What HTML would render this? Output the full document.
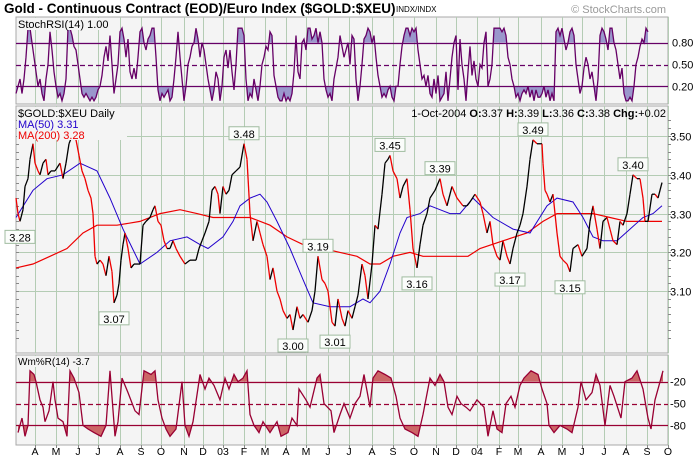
<!DOCTYPE html>
<html><head><meta charset="utf-8"><style>
html,body{margin:0;padding:0;background:#fff;}
svg{display:block;font-family:"Liberation Sans",sans-serif;}
</style></head><body>
<svg id="chart" width="700" height="462" viewBox="0 0 700 462" xmlns="http://www.w3.org/2000/svg">
<text x="4" y="13" font-size="13.5" font-weight="bold" fill="#000">Gold - Continuous Contract (EOD)/Euro Index ($GOLD:$XEU)</text>
<text x="396" y="12" font-size="8" fill="#000">INDX/INDX</text>
<text x="666" y="13" font-size="11" fill="#999" text-anchor="end">© StockCharts.com</text>
<g id="panels"></g>
</svg>
<script>
// ---- data ----
const monthLabels=["A","M","J","J","A","S","O","N","D","03","F","M","A","M","J","J","A","S","O","N","D","04","F","M","A","M","J","J","A","S","O"];
const monthDays=[19,40,62,82,104,125,145,168,187,207,228,249,270,290,312,333,356,377,398,420,440,461,483,502,525,546,566,588,610,631,652];
const priceDays=[0,2,4,7,9,12,14,17,19,22,24,27,30,32,35,39,44,47,50,53,56,60,63,66,69,72,75,77,79,81,84,87,90,93,96,98,101,103,105,107,109,112,115,118,121,124,127,130,134,137,139,142,145,148,151,154,157,160,164,169,174,177,180,183,186,189,193,196,199,202,204,207,210,213,216,220,224,228,231,234,237,241,244,247,251,254,257,261,264,267,271,274,277,281,284,287,292,296,299,302,306,309,312,316,319,322,326,329,332,336,339,342,346,349,352,356,359,362,366,369,372,374,377,381,384,387,391,394,397,401,404,407,411,414,419,424,427,431,436,441,447,451,454,459,464,467,471,474,477,481,484,487,491,494,497,501,504,507,511,514,517,521,526,527,529,531,534,537,541,544,547,551,554,557,562,566,571,574,577,581,584,587,591,594,597,601,604,607,611,614,617,621,624,627,629,632,636,639,642,646];
const closes=[3.34,3.30,3.28,3.31,3.37,3.39,3.44,3.48,3.43,3.41,3.40,3.43,3.44,3.40,3.41,3.41,3.43,3.39,3.43,3.48,3.50,3.49,3.45,3.41,3.39,3.36,3.34,3.30,3.19,3.17,3.18,3.17,3.14,3.19,3.15,3.07,3.09,3.12,3.18,3.22,3.25,3.21,3.16,3.17,3.17,3.17,3.27,3.28,3.29,3.31,3.32,3.28,3.27,3.23,3.21,3.21,3.23,3.21,3.19,3.17,3.18,3.18,3.18,3.21,3.23,3.25,3.28,3.36,3.37,3.35,3.30,3.37,3.35,3.36,3.40,3.41,3.42,3.48,3.44,3.30,3.23,3.28,3.25,3.22,3.19,3.13,3.16,3.10,3.08,3.05,3.03,3.04,3.00,3.06,3.03,3.04,3.02,3.05,3.10,3.19,3.13,3.12,3.10,3.02,3.01,3.08,3.03,3.01,3.05,3.03,3.06,3.09,3.17,3.14,3.08,3.17,3.27,3.26,3.35,3.43,3.44,3.45,3.41,3.39,3.34,3.37,3.39,3.31,3.21,3.16,3.22,3.27,3.30,3.34,3.36,3.39,3.35,3.32,3.37,3.34,3.32,3.32,3.33,3.35,3.33,3.30,3.25,3.28,3.22,3.19,3.18,3.23,3.19,3.17,3.21,3.25,3.27,3.30,3.37,3.44,3.49,3.48,3.48,3.43,3.36,3.35,3.33,3.35,3.25,3.19,3.18,3.17,3.15,3.21,3.22,3.19,3.21,3.28,3.32,3.26,3.21,3.28,3.29,3.26,3.23,3.22,3.28,3.27,3.30,3.35,3.40,3.39,3.39,3.34,3.28,3.28,3.35,3.35,3.34,3.38];
const ma50Days=[0,17,31,47,64,81,94,107,124,141,154,171,184,192,207,217,224,234,244,251,261,274,287,297,314,334,347,354,364,374,384,391,404,414,424,434,444,457,477,497,514,531,541,557,567,577,587,601,614,627,637,646];
const ma50=[3.29,3.36,3.39,3.40,3.43,3.41,3.34,3.26,3.17,3.20,3.23,3.24,3.22,3.21,3.24,3.28,3.32,3.34,3.35,3.33,3.28,3.21,3.13,3.07,3.06,3.06,3.08,3.07,3.10,3.17,3.25,3.29,3.30,3.32,3.31,3.30,3.30,3.34,3.29,3.26,3.25,3.32,3.34,3.33,3.29,3.24,3.23,3.23,3.26,3.29,3.30,3.32];
const ma200Days=[0,17,34,51,67,81,101,124,144,164,181,197,224,234,254,271,287,307,324,341,354,364,377,394,407,431,452,464,487,511,527,541,561,577,594,611,646];
const ma200=[3.16,3.17,3.19,3.21,3.25,3.27,3.27,3.28,3.30,3.31,3.30,3.29,3.29,3.29,3.27,3.24,3.22,3.21,3.20,3.19,3.17,3.17,3.19,3.20,3.19,3.19,3.19,3.21,3.23,3.25,3.28,3.30,3.30,3.30,3.29,3.28,3.28];
// StochRSI sampled every 2 trading days
const stochVals=[0.1,0.2,0.3,0.1,0.3,0.6,1.0,1.0,0.8,0.6,0.4,0.2,0.3,0.1,0.0,0.3,0.5,0.95,0.7,0.4,0.2,0.05,0.1,0.0,0.1,0.3,1.0,1.0,0.9,0.75,0.7,0.5,0.3,0.1,0.05,0.1,0.05,0.0,0.05,0.0,0.05,0.15,0.2,0.35,0.6,0.75,0.55,0.9,0.5,0.1,0.3,0.5,0.95,1.0,0.85,0.6,0.85,0.4,0.3,0.45,0.3,0.6,0.95,1.0,0.8,0.7,0.85,0.9,1.0,1.0,0.6,0.15,0.0,0.1,0.05,0.1,0.15,0.0,0.05,0.3,0.6,0.95,0.6,0.3,0.0,0.2,0.5,0.6,0.75,0.8,1.0,0.85,0.6,0.8,0.7,0.5,0.3,0.15,0.0,0.15,0.4,0.3,0.0,0.2,0.6,0.7,0.45,0.7,0.4,0.15,0.5,1.0,1.0,1.0,0.9,0.3,0.0,0.1,0.05,0.3,0.15,0.0,0.2,0.5,0.6,0.75,0.7,0.95,0.9,0.35,0.2,0.05,0.0,0.0,0.1,0.0,0.05,0.0,0.1,0.4,0.9,0.4,0.3,0.8,0.85,0.7,1.0,1.0,0.85,0.9,1.0,0.8,0.95,0.8,0.3,0.15,0.05,0.1,0.0,0.3,0.45,0.6,0.9,0.75,0.6,0.7,0.8,0.5,0.9,0.85,0.3,0.0,0.2,0.5,0.85,0.9,1.0,0.95,0.8,0.9,0.6,0.35,0.2,0.05,0.1,0.05,0.15,0.2,0.05,0.0,0.2,0.2,0.5,0.75,0.9,1.0,1.0,0.9,1.0,0.95,1.0,0.7,0.5,0.3,0.35,0.2,0.35,0.1,0.05,0.3,0.1,0.35,0.0,0.05,0.1,0.4,0.0,0.3,0.6,0.8,0.9,0.15,0.85,0.5,0.3,0.0,0.4,0.75,0.35,0.55,0.3,0.2,0.5,0.45,0.8,0.95,0.2,0.3,0.5,1.0,1.0,1.0,1.0,0.95,1.0,0.9,0.6,0.5,0.3,0.2,0.05,0.1,0.0,0.1,0.15,0.1,0.2,0.05,0.15,0.0,0.15,0.05,0.05,0.1,0.2,0.05,0.15,0.0,0.1,0.0,0.95,1.0,0.9,1.0,0.85,0.7,0.8,0.95,1.0,0.9,0.5,0.3,0.1,0.2,0.45,0.6,0.5,0.3,0.4,0.2,0.0,0.3,0.9,1.0,0.95,0.85,0.7,1.0,1.0,0.8,0.7,0.5,0.3,0.45,0.1,0.0,0.0,0.05,0.0,0.2,0.5,0.6,0.75,0.85,0.8,1.0,0.95];
const wmDays=[2,6,9,12,14,18,20,24,27,29,33,37,39,42,47,51,54,58,63,67,72,78,85,90,94,99,102,106,112,119,123,128,135,139,142,146,150,154,160,166,169,173,177,184,189,193,198,204,209,213,218,222,227,231,234,238,243,247,254,261,265,272,276,281,283,290,294,301,304,308,315,318,324,328,334,339,344,348,354,357,362,369,375,380,384,389,396,402,407,414,419,424,428,432,436,441,445,450,454,461,468,472,477,481,486,490,495,499,504,508,515,522,526,531,533,538,544,551,556,562,565,570,576,580,584,589,594,598,605,609,616,621,627,632,635,639,643,645,647];
const wmVals=[-90,-70,-95,-80,-5,-10,-20,-45,-55,-75,-60,-20,-45,-70,-75,-95,-5,-15,-35,-80,-85,-90,-95,-80,-5,-95,-75,-15,-35,-60,-65,-5,-10,-5,-45,-70,-85,-95,-85,-20,-80,-95,-75,-10,-30,-15,-25,-45,-15,-30,-10,-20,-15,-5,-65,-80,-90,-75,-90,-75,-95,-90,-70,-80,-30,-45,-55,-15,-10,-50,-60,-90,-65,-50,-70,-50,-40,-10,-55,-15,-5,-10,-15,-40,-70,-85,-90,-95,-65,-15,-25,-10,-20,-55,-65,-40,-50,-55,-60,-45,-55,-95,-60,-85,-90,-50,-40,-55,-25,-15,-5,-10,-30,-50,-80,-90,-80,-85,-90,-55,-20,-45,-35,-10,-25,-80,-25,-40,-70,-20,-15,-5,-30,-70,-85,-45,-25,-15,-5];
const annotLabels=["3.28","3.07","3.48","3.00","3.01","3.19","3.45","3.16","3.39","3.49","3.17","3.15","3.40"];
const annotDays=[4,98,228,277,319,302,374,401,424,517,494,554,617];
const annotPrices=[3.28,3.07,3.48,3.00,3.01,3.19,3.45,3.16,3.39,3.49,3.17,3.15,3.40];
const annotBelow=[1,1,0,1,1,0,0,1,0,0,1,1,0];
const priceTicks=[3.10,3.20,3.30,3.40,3.50];
const stochTicks=[0.2,0.5,0.8];
const wmTicks=[-20,-50,-80];

// ---- scales ----
const L=16,R=668,LAST=647;
const xS=d=>16+d;
const yP=p=>136+(3.5-p)*388;
const yS=v=>100.8-v*72.6;
const yW=v=>367.2-v*0.727;
const stochDays=stochVals.map((v,i)=>Math.min(LAST,i*2));
const NS="http://www.w3.org/2000/svg";
const svg=document.getElementById('panels');
function el(tag,attrs,parent){const e=document.createElementNS(NS,tag);for(const k in attrs)e.setAttribute(k,attrs[k]);(parent||svg).appendChild(e);return e;}

const panels=[["stoch-panel",17,104],["price-panel",106,353],["williams-panel",355,445]];
panels.forEach(p=>{
  const r=el('rect',{x:L,y:p[1],width:R-L,height:p[2]-p[1],fill:'#f4f4f4',stroke:'#a8a8a8','stroke-width':1});
  
  
  monthDays.forEach(d=>{
    const g=el('line',{x1:xS(d)+.5,x2:xS(d)+.5,y1:p[1],y2:p[2],stroke:'#b4ccb4','stroke-width':1});
    
    
  });
});
priceTicks.forEach(t=>{
  const y=Math.round(yP(t))+.5;
  const g=el('line',{x1:L,x2:R,y1:y,y2:y,stroke:'#b4ccb4'});
  
  
  const tx=el('text',{x:670,y:y+4,'font-size':11,fill:'#000'});
  tx.textContent=t.toFixed(2);
  
  
});
for(let p=2.98;p<=3.56;p+=0.02){const y=Math.round(yP(p))+.5;if(y>107&&y<352){el('line',{x1:R,x2:R+3,y1:y,y2:y,stroke:'#888'});el('line',{x1:L,x2:L+3,y1:y,y2:y,stroke:'#888'});}}

function osc(days,vals,ys,hi,lo,mid,lineColor,fillColor,name){
  const n=Math.min(days.length,vals.length);
  const pts=[];for(let i=0;i<n;i++)pts.push(xS(days[i])+','+ys(vals[i]).toFixed(1));
  const x0=xS(days[0]),x1=xS(days[n-1]);
  const id=name+'-clip';
  const defs=el('defs',{});
  const c1=el('clipPath',{id:id+'h'},defs);el('rect',{x:0,y:0,width:700,height:ys(hi)},c1);
  const c2=el('clipPath',{id:id+'l'},defs);el('rect',{x:0,y:ys(lo),width:700,height:200},c2);
  const fh=el('polygon',{points:pts.join(' ')+' '+x1+','+ys(hi)+' '+x0+','+ys(hi),fill:fillColor,'clip-path':'url(#'+id+'h)'});
  
  
  const fl=el('polygon',{points:pts.join(' ')+' '+x1+','+ys(lo)+' '+x0+','+ys(lo),fill:fillColor,'clip-path':'url(#'+id+'l)'});
  
  
  [hi,mid,lo].forEach((v,i)=>{
    const y=Math.round(ys(v))+.5;
    const ln=el('line',{x1:L,x2:R,y1:y,y2:y,stroke:lineColor,'stroke-width':1.3,'stroke-dasharray':i==1?'5,3':'none'});
    
    
  });
  const pl=el('polyline',{points:pts.join(' '),fill:'none',stroke:lineColor,'stroke-width':1.3});
  
  
}
osc(stochDays,stochVals,yS,0.8,0.2,0.5,'#660066','#9a97cc','stochrsi');
osc(wmDays,wmVals,yW,-20,-80,-50,'#990033','#cc6666','williams');
stochTicks.forEach(t=>{const tx=el('text',{x:672,y:yS(t)+4,'font-size':11});tx.textContent=t.toFixed(2);
  
  });
wmTicks.forEach(t=>{const tx=el('text',{x:670,y:yW(t)+4,'font-size':11});tx.textContent=String(t);
  
  });

const m2=el('polyline',{points:ma200Days.map((d,i)=>xS(d)+','+yP(ma200[i]).toFixed(1)).join(' '),fill:'none',stroke:'#ee0000','stroke-width':1.2});


const m1=el('polyline',{points:ma50Days.map((d,i)=>xS(d)+','+yP(ma50[i]).toFixed(1)).join(' '),fill:'none',stroke:'#2200cc','stroke-width':1});


for(let i=1;i<closes.length;i++){
  const s=el('line',{x1:xS(priceDays[i-1]),y1:yP(closes[i-1]),x2:xS(priceDays[i]),y2:yP(closes[i]),stroke:closes[i]>=closes[i-1]?'#000':'#ee0000','stroke-width':1.3});
  
  
}
annotLabels.forEach((t,i)=>{
  const x=xS(annotDays[i]),yp=yP(annotPrices[i]);
  const y=annotBelow[i]?yp+9:yp-17;
  const b=el('rect',{x:x-15,y:y,width:30,height:13,fill:'#fbfdfb',stroke:'#a0bca0'});
  
  
  const tx=el('text',{x:x,y:y+11,'font-size':11,'text-anchor':'middle'});tx.textContent=t;
  
  
});
monthLabels.forEach((m,i)=>{
  const tx=el('text',{x:xS(monthDays[i]),y:455,'font-size':10.5,'text-anchor':'middle'});tx.textContent=m;
  
  
  el('line',{x1:xS(monthDays[i])+.5,x2:xS(monthDays[i])+.5,y1:445,y2:448,stroke:'#888'});
});
function txt(x,y,s,attrs,name){const t=el('text',Object.assign({x:x,y:y,'font-size':11},attrs||{}));t.textContent=s;
  
  return t;}
el('rect',{x:17,y:18,width:98,height:12,fill:'#f4f4f4'});
txt(18,28,'StochRSI(14)  1.00',{},'stochrsi-legend');
el('rect',{x:17,y:107,width:110,height:33,fill:'#f4f4f4'});
txt(18,117,'$GOLD:$XEU Daily',{},'price-legend');
txt(18,128,'MA(50) 3.31',{fill:'#2200cc'},'ma50-legend');
txt(18,139,'MA(200) 3.28',{fill:'#ee0000'},'ma200-legend');
const ohlc=txt(666,117,'',{'text-anchor':'end'},'ohlc-summary');
ohlc.innerHTML='1-Oct-2004 <tspan font-weight="bold">O:</tspan>3.37 <tspan font-weight="bold">H:</tspan>3.39 <tspan font-weight="bold">L:</tspan>3.36 <tspan font-weight="bold">C:</tspan>3.38 <tspan font-weight="bold">Chg:</tspan>+0.02';
el('rect',{x:17,y:356,width:70,height:11,fill:'#f4f4f4'});
txt(18,365,'Wm%R(14) -3.7',{'font-size':10},'williams-legend');
</script>
</body></html>
